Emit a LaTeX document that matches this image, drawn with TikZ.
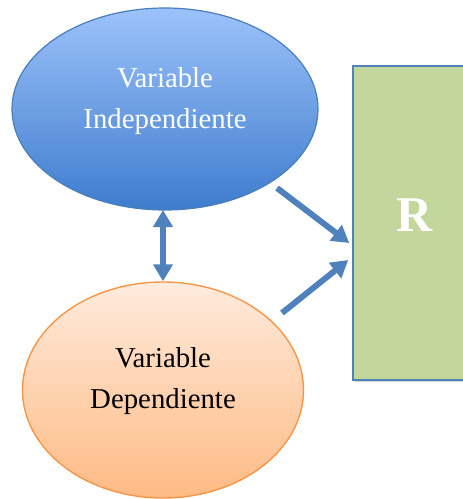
\documentclass[tikz,border=0pt]{standalone}
\usepackage{fontspec}
\setmainfont{Liberation Serif}
\usetikzlibrary{shapes.geometric,arrows.meta,calc,shadows}
\definecolor{blueT}{HTML}{9CC2FA}
\definecolor{blueB}{HTML}{3E7CCD}
\definecolor{blueLine}{HTML}{4A7EBB}
\definecolor{arrowBlue}{HTML}{4F81BD}
\definecolor{orT}{HTML}{FFEBDD}
\definecolor{orB}{HTML}{FEBA84}
\definecolor{orLine}{HTML}{F79646}
\definecolor{greenFill}{HTML}{C3D69B}
\tikzset{
  topell/.style={ellipse, draw=blueLine, line width=1.2pt, top color=blueT, bottom color=blueB, minimum width=306pt, minimum height=202pt, inner sep=0pt},
  botell/.style={ellipse, draw=orLine, line width=1.4pt, top color=orT, bottom color=orB, minimum width=281pt, minimum height=216pt, inner sep=0pt},
  eltext/.style={align=center, font=\fontsize{28.8}{41}\selectfont, inner sep=0pt},
  rbox/.style={rectangle, draw=arrowBlue, line width=1.5pt, fill=greenFill, minimum width=124pt, minimum height=314pt, inner sep=0pt, drop shadow={shadow xshift=2pt, shadow yshift=-2pt, opacity=0.35}},
  rtext/.style={text=white, font=\fontsize{50}{50}\selectfont\bfseries, inner sep=0pt},
  bigarrow/.style={draw=arrowBlue, line width=6pt, -{Triangle[width=19pt,length=17pt]}},
  dblarrow/.style={draw=arrowBlue, line width=6pt, {Triangle[width=19pt,length=17pt]}-{Triangle[width=19pt,length=17pt]}},
}
\begin{document}
\begin{tikzpicture}[x=1pt,y=-1pt]
\useasboundingbox (0,0) rectangle (463,499);
\node[rbox] (R) at (415,223) {};
\node[rtext] (Rt) at (415,215) {R};
\node[topell] (vi) at (165,109) {};
\node[eltext, text=white] (vit) at (165,101) {Variable\\Independiente};
\node[botell] (vd) at (163,390) {};
\node[eltext, text=black] (vdt) at (163,381) {Variable\\Dependiente};
\coordinate (dtop) at (163,210);
\coordinate (a1s) at (277,188);
\coordinate (a1e) at ($(R.west)+(-3,20)$);
\coordinate (a2s) at (282,313);
\coordinate (a2e) at ($(R.west)+(-4,37)$);
\draw[dblarrow] (dtop) -- (vd.north);
\draw[bigarrow] (a1s) -- (a1e);
\draw[bigarrow] (a2s) -- (a2e);
\end{tikzpicture}
\end{document}
